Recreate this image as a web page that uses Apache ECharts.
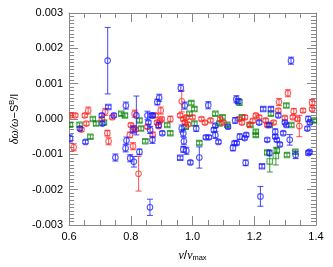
<!DOCTYPE html>
<html><head><meta charset="utf-8">
<script src="https://cdn.jsdelivr.net/npm/echarts@6/dist/echarts.min.js"></script>
<style>html,body{margin:0;padding:0;background:#fff}#c{width:333px;height:267px}</style>
</head><body><div id="c"></div>
<script>
// [nu/nu_max, residual, error]
const blueCircles = [
[0.725,0.00165,0.00094],[1.319,0.00165,0.0001],[0.862,-0.0025,0.00023],[1.220,-0.00219,0.00028],
[1.022,-0.00109,0.0003],[0.993,-0.00123,0.00005],[1.172,-0.00124,0.00008],[1.249,-0.00096,0.00008],
[1.334,-0.00102,0.0001],[1.375,-0.00096,0.00006],[0.75,-0.00109,0.0001],[0.798,-0.00111,0.0001],
[0.81,-0.00121,0.00015],[0.98,-0.0009,0.0001],[0.784,0.00038,0.0001],[0.818,0.0001,0.00055],
[0.603,-0.00055,0.0001],[0.653,-0.00065,0.00005],[0.786,-0.00061,0.0001],[0.783,-0.00083,0.0001],
[0.828,-0.00093,0.00008],[0.8625,-0.00031,0.0001],[0.87,-0.00059,0.0001],[0.745,0.0001,0.00005],
[0.706,0.0001,0.00005],[0.708,-0.00013,0.00005],[0.635,-0.00027,0.00005],[0.807,-0.0003,0.0001],
[0.854,0.0001,0.00012],[0.867,0.0001,0.00005],[0.857,-0.0001,0.00005],[0.962,0.00088,0.0001],
[0.892,0.0006,0.0001],[0.886,0.00048,0.00008],[0.975,0.00038,0.0001],[1.051,0.00039,0.0001],
[1.142,0.00056,0.0001],[0.871,0.0001,0.00005],[1.074,-0.00019,0.00005],[1.115,-0.00022,0.00005],
[1.138,-0.00004,0.00008],[0.965,-0.00027,0.0001],[0.97,-0.0004,0.0001],[1.012,-0.00027,0.00008],
[1.069,-0.00031,0.00006],[1.074,-0.00045,0.0001],[1.043,-0.00052,0.00005],[1.053,-0.00052,0.00005],
[1.084,-0.00065,0.00005],[0.972,-0.00063,0.0001],[0.97,-0.00086,0.00008],[1.136,-0.00068,0.00005],
[1.131,-0.00082,0.00008],[0.902,-0.0004,0.00005],[0.89,-0.00017,0.00008],[1.278,0.0001,0.00005],
[1.375,0.0,0.00008],[1.38,-0.0001,0.00005],[1.372,-0.00027,0.00005],[1.299,-0.0001,0.00005],
[1.304,-0.00017,0.00005],[1.216,-0.0001,0.00005],[1.247,-0.00017,0.00005],[1.268,-0.00036,0.00008],
[1.268,-0.0005,0.00005],[1.273,-0.00059,0.00005],[1.283,-0.00072,0.00005],[1.294,-0.0004,0.00005],
[1.315,-0.00059,0.00015],[1.174,-0.00045,0.00005],[1.169,-0.00054,0.00005],[1.153,-0.0005,0.00008],
[1.242,-0.00059,0.00005],[1.379,-0.00093,0.00005],[1.143,-0.00068,0.00005]
];
const blueSquares = [
[0.727,0.00034,0.00005],[1.229,0.00028,0.00005],[1.225,-0.00134,0.00005],[1.254,0.00028,0.00005],
[1.148,0.0005,0.00006],[0.96,-0.0011,0.00005]
];
const redCircles = [
[0.825,-0.00155,0.00049],[0.662,0.00024,0.0001],[0.605,0.0001,0.00005],[0.62,0.0001,0.00005],
[0.615,-0.0008,0.0001],[0.724,-0.0004,0.00008],[0.728,-0.00063,0.0001],[0.807,-0.00077,0.0001],
[0.8125,0.00015,0.0001],[0.80,-0.00017,0.00005],[0.81,-0.00025,0.00005],[0.815,-0.0003,0.00005],
[0.706,0.0,0.00005],[0.717,0.0002,0.0001],[0.656,-0.00013,0.00005],[0.651,0.0001,0.00005],
[0.797,-0.00045,0.00008],[0.854,-0.00022,0.00005],[0.965,0.0005,0.0003],[0.897,0.00024,0.0001],
[0.88,0.0001,0.00005],[0.885,-0.0001,0.00005],[0.89,-0.0002,0.00005],[0.895,-0.00005,0.00005],
[0.9,0.0,0.00005],[0.928,0.0,0.00008],[0.96,0.0001,0.00005],[0.97,0.0,0.00005],
[0.975,-0.0001,0.00005],[0.98,0.00005,0.00005],[0.985,-0.00015,0.00005],[1.029,0.0,0.00005],
[1.058,-0.00004,0.00005],[0.871,-0.00045,0.00008],[1.309,0.00073,0.0001],[1.28,0.00048,0.0001],
[1.278,0.00024,0.00005],[1.328,0.00022,0.00008],[1.358,0.00024,0.00005],[1.3875,0.00047,0.00008],
[1.3875,0.00028,0.00005],[1.325,0.00005,0.00005],[1.34,0.0,0.00005],[1.346,-0.0002,0.0003],
[1.299,0.00003,0.00005],[1.2625,-0.0001,0.00005],[1.16,-0.0001,0.00005],[1.184,-0.00016,0.00005],
[1.216,0.00005,0.00005],[1.205,0.0001,0.00005],[1.237,-0.00004,0.00005],[1.242,-0.00017,0.00005],
[1.15,0.0,0.00005],[1.17,0.00005,0.00005],[1.195,-0.00005,0.00005],[1.1,-0.0001,0.00005],
[1.09,0.0,0.00005],[1.0,0.00005,0.00005],[1.04,-0.0001,0.00005],[0.64,-0.0003,0.00005],
[0.74,0.00005,0.00005]
];
const greenSquares = [
[1.25,-0.0012,0.0003],[1.27,-0.00105,0.00025],[1.306,-0.00102,0.00005],[0.634,-0.00016,0.00005],
[0.603,-0.00016,0.00005],[0.669,-0.0005,0.00005],[0.847,-0.00063,0.00005],[0.828,-0.00004,0.00005],
[0.769,0.00015,0.00005],[0.781,0.0001,0.00005],[0.6875,-0.00013,0.00005],[0.713,-0.0001,0.00005],
[0.677,0.0,0.00005],[0.833,-0.00027,0.00005],[0.996,0.00045,0.00005],[1.006,0.00028,0.00005],
[0.99,0.00015,0.00005],[0.978,-0.00022,0.00005],[1.006,-0.00013,0.00005],[1.074,0.00015,0.00005],
[1.097,0.00005,0.00005],[1.087,-0.00013,0.00005],[1.1125,-0.00016,0.00005],[1.022,-0.00068,0.00005],
[0.918,-0.00017,0.00005],[0.928,-0.0004,0.00005],[1.304,0.00038,0.00005],[1.152,0.00047,0.00008],
[1.254,0.00015,0.00005],[1.393,-0.00004,0.00005],[1.32,-0.00017,0.00005],[1.205,-0.00036,0.00005],
[1.205,-0.00045,0.00005],[1.242,-0.00095,0.00005],[1.273,-0.00089,0.00005],[1.333,-0.00093,0.00005],
[1.16,0.00005,0.00005],[1.1875,-0.00017,0.00005],[1.25,-0.00017,0.00005]
];
const xTicks = [0.6, 0.8, 1.0, 1.2, 1.4];
const yTicks = [-0.003, -0.002, -0.001, 0.000, 0.001, 0.002, 0.003];

const BLUE = 'rgba(30,30,255,0.75)', RED = 'rgba(255,30,30,0.7)', GREEN = 'rgba(0,130,0,0.7)';

function errSeries(data, color, shape) {
  return {
    type: 'custom', xAxisIndex: 0, yAxisIndex: 0, clip: true, data: data,
    renderItem: function (params, api) {
      const x = api.value(0), y = api.value(1), e = api.value(2);
      const c = api.coord([x, y]), t = api.coord([x, y + e]), b = api.coord([x, y - e]);
      const st = { stroke: color, fill: 'none', lineWidth: 1.1 };
      const ch = [
        { type: 'line', shape: { x1: c[0], y1: t[1], x2: c[0], y2: b[1] }, style: st },
        { type: 'line', shape: { x1: c[0] - 3, y1: t[1], x2: c[0] + 3, y2: t[1] }, style: st },
        { type: 'line', shape: { x1: c[0] - 3, y1: b[1], x2: c[0] + 3, y2: b[1] }, style: st }
      ];
      if (shape === 'circle') ch.push({ type: 'circle', shape: { cx: c[0], cy: c[1], r: 2.8 }, style: st });
      else ch.push({ type: 'rect', shape: { x: c[0] - 2.7, y: c[1] - 2.7, width: 5.4, height: 5.4 }, style: st });
      return { type: 'group', children: ch };
    }
  };
}

const axisCol = '#888';
function xAx(pos, lab) {
  return {
    type: 'value', position: pos, min: 0.6, max: 1.4, interval: 0.2,
    axisLine: { show: true, onZero: false, lineStyle: { color: axisCol, width: 1 } },
    axisTick: { show: true, inside: true, length: 9, lineStyle: { color: axisCol } },
    minorTick: { show: true, splitNumber: 4, length: 5, lineStyle: { color: axisCol } },
    splitLine: { show: false }, minorSplitLine: { show: false },
    axisLabel: { show: lab, fontSize: 11, color: '#000', margin: 6, fontFamily: 'Liberation Sans',
      formatter: function (v) { return v.toFixed(1); } },
    name: lab ? '{i|ν}/{i|ν}{sub|max}' : '', nameLocation: 'middle', nameGap: 24,
    nameTextStyle: { fontFamily: 'Liberation Sans', color: '#000', rich: {
      i: { fontStyle: 'italic', fontSize: 12, fontFamily: 'Liberation Serif', color: '#000' },
      sub: { fontSize: 7.5, verticalAlign: 'bottom', padding: [5, 0, 0, 0], fontFamily: 'Liberation Sans', color: '#000' } } }
  };
}
function yAx(pos, lab) {
  return {
    type: 'value', position: pos, min: -0.003, max: 0.003, interval: 0.001,
    axisLine: { show: true, onZero: false, lineStyle: { color: axisCol, width: 1 } },
    axisTick: { show: true, inside: true, length: 9, lineStyle: { color: axisCol } },
    minorTick: { show: true, splitNumber: 10, length: 5, lineStyle: { color: axisCol } },
    splitLine: { show: false }, minorSplitLine: { show: false },
    axisLabel: { show: lab, fontSize: 11, color: '#000', margin: 6, fontFamily: 'Liberation Sans',
      formatter: function (v) { return v.toFixed(3); } },
    name: lab ? '{i|δω/ω}{n|−S}{sup|B}{n|/I}' : '', nameLocation: 'middle', nameGap: 40, nameRotate: 90,
    nameTextStyle: { fontFamily: 'Liberation Sans', fontSize: 11, color: '#000', rich: {
      i: { fontStyle: 'italic', fontSize: 12, fontFamily: 'Liberation Serif', color: '#000' },
      n: { fontSize: 11, fontFamily: 'Liberation Sans', color: '#000' },
      sup: { fontSize: 7.5, verticalAlign: 'top', padding: [0, 0, 6, 0], color: '#000' } } }
  };
}

const chart = echarts.init(document.getElementById('c'), null, { renderer: 'canvas' });
chart.setOption({
  animation: false,
  backgroundColor: '#fff',
  grid: { left: 60, right: 17, top: 13, bottom: 36 },
  xAxis: [xAx('bottom', true), xAx('top', false)],
  yAxis: [yAx('left', true), yAx('right', false)],
  series: [
    errSeries(greenSquares, GREEN, 'rect'),
    errSeries(redCircles, RED, 'circle'),
    errSeries(blueSquares, BLUE, 'rect'),
    errSeries(blueCircles, BLUE, 'circle')
  ]
});
</script></body></html>
